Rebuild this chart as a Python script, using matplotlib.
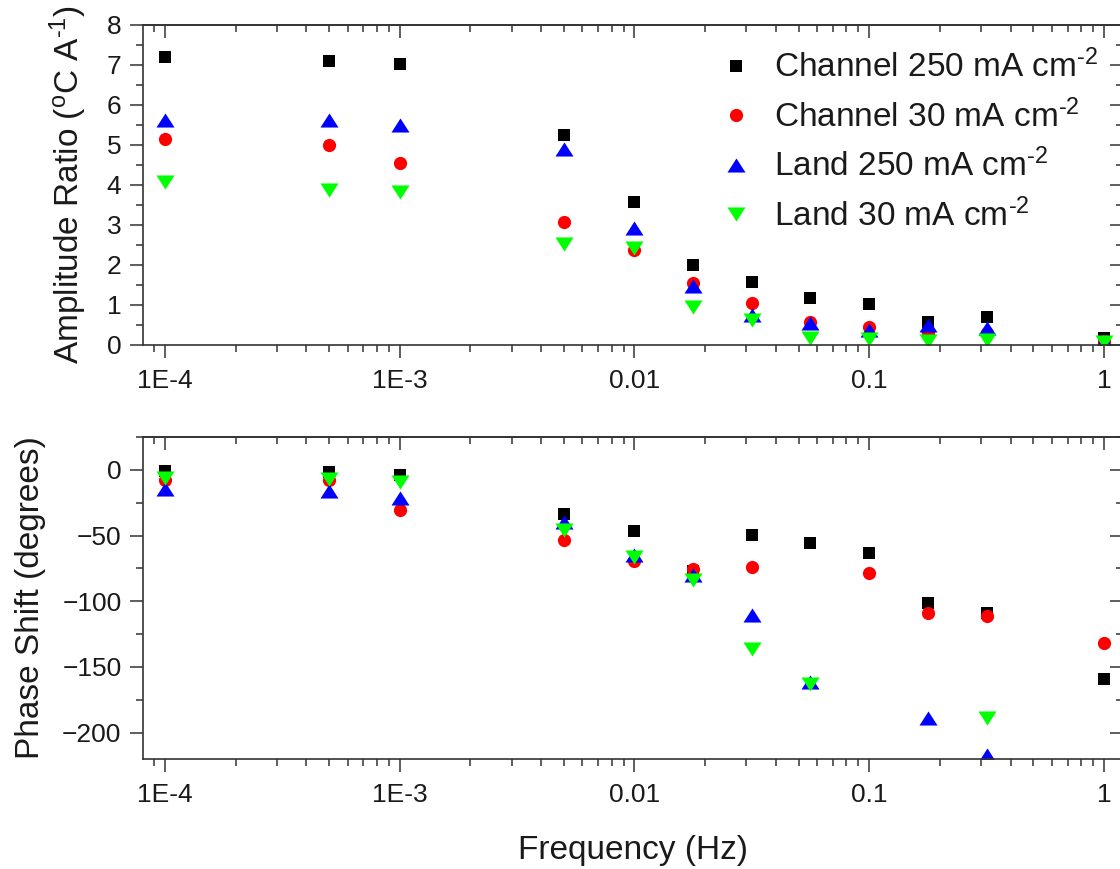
import numpy as np
import matplotlib
matplotlib.use("Agg")
import matplotlib.pyplot as plt
from matplotlib.ticker import FixedLocator, FixedFormatter, MultipleLocator, NullFormatter, LogLocator

plt.rcParams['font.family'] = ['Liberation Sans', 'DejaVu Sans']
plt.rcParams['mathtext.fontset'] = 'custom'
plt.rcParams['mathtext.rm'] = 'Liberation Sans'
plt.rcParams['mathtext.it'] = 'Liberation Sans:italic'
plt.rcParams['mathtext.bf'] = 'Liberation Sans:bold'

# ---- data ----
freq = [1e-4, 5e-4, 1e-3, 5e-3, 1e-2, 0.0178, 0.0316, 0.0562, 0.1, 0.178, 0.316, 1.0]

amp_ch250 = [7.2, 7.1, 7.03, 5.25, 3.57, 2.0, 1.58, 1.17, 1.02, 0.58, 0.70, 0.17]
amp_ch30 = [5.14, 5.0, 4.55, 3.08, 2.37, 1.55, 1.05, 0.58, 0.45, 0.30, 0.30, 0.10]
amp_la250 = [5.63, 5.63, 5.5, 4.9, 2.92, 1.47, 0.75, 0.55, 0.38, 0.5, 0.42, 0.10]
amp_la30 = [4.08, 3.88, 3.83, 2.52, 2.42, 0.95, 0.62, 0.17, 0.15, 0.10, 0.12, 0.08]

ph_ch250 = [-1, -2, -4, -33.6, -46.5, -77, -49.6, -55.7, -63.6, -101.5, -109, -158.8]
ph_ch30 = [-8, -8, -30.5, -53.4, -69, -75.8, -73.8, np.nan, -78.6, -109, -111.5, -131.8]
ph_la250 = [-14.7, -15.8, -21.4, -39.4, -65, -80, -110.7, -161.6, np.nan, -189, -217, np.nan]
ph_la30 = [-6, -7, -9, -46, -66, -84, -136, -162.6, np.nan, np.nan, -188.7, np.nan]

labels = ['Channel 250 mA cm$^{\\text{-2}}$', 'Channel 30 mA cm$^{\\text{-2}}$',
          'Land 250 mA cm$^{\\text{-2}}$', 'Land 30 mA cm$^{\\text{-2}}$']
colors = ['#000000', '#ff0000', '#0000ff', '#00ff00']

xtick_vals = [1e-4, 1e-3, 1e-2, 1e-1, 1]
xtick_labels = ['1E-4', '1E-3', '0.01', '0.1', '1']

tri_up = [(-1, -0.78), (1, -0.78), (0, 0.78), (-1, -0.78)]
tri_dn = [(-1, 0.78), (1, 0.78), (0, -0.78), (-1, 0.78)]
markers = ['s', 'o', tri_up, tri_dn]
msizes = [9, 9.5, 13, 13]

W, H = 1120, 869
fig = plt.figure(figsize=(W / 100, H / 100), dpi=100)

L = 143 / W
Wd = (1123 - 143) / W
ax1 = fig.add_axes([L, 1 - 345 / H, Wd, (345 - 25) / H])
ax2 = fig.add_axes([L, 1 - 759 / H, Wd, (759 - 437) / H])

text_c = '#1a1a1a'
spine_c = '#333333'

def style(ax, ymaj, ymin, ylim):
    ax.set_xscale('log')
    ax.set_xlim(8.06e-5, 1.205)
    ax.set_ylim(*ylim)
    ax.xaxis.set_major_locator(FixedLocator(xtick_vals))
    ax.xaxis.set_major_formatter(FixedFormatter(xtick_labels))
    ax.xaxis.set_minor_locator(LogLocator(base=10, subs=np.arange(2, 10), numticks=20))
    ax.xaxis.set_minor_formatter(NullFormatter())
    ax.yaxis.set_major_locator(MultipleLocator(ymaj))
    ax.yaxis.set_minor_locator(MultipleLocator(ymin))
    ax.tick_params(which='major', direction='out', length=9.5, width=1.1, color=spine_c,
                   labelsize=19, labelcolor=text_c, pad=8)
    ax.tick_params(which='minor', direction='out', length=5, width=1.1, color=spine_c)
    ax.tick_params(axis='y', which='major', pad=6)
    for s in ax.spines.values():
        s.set_color(spine_c)
        s.set_linewidth(1.2)
    # mirrored ticks pointing inward on top / right
    sx = ax.secondary_xaxis('top')
    sx.set_xticks(xtick_vals)
    sx.xaxis.set_minor_locator(LogLocator(base=10, subs=np.arange(2, 10), numticks=20))
    sx.xaxis.set_major_formatter(NullFormatter())
    sx.xaxis.set_minor_formatter(NullFormatter())
    sx.tick_params(which='major', direction='in', length=9.5, width=1.1, color=spine_c)
    sx.tick_params(which='minor', direction='in', length=5, width=1.1, color=spine_c)
    sx.spines['top'].set_color(spine_c)
    sx.spines['top'].set_linewidth(1.2)
    sy = ax.secondary_yaxis('right')
    sy.yaxis.set_major_locator(MultipleLocator(ymaj))
    sy.yaxis.set_minor_locator(MultipleLocator(ymin))
    sy.yaxis.set_major_formatter(NullFormatter())
    sy.tick_params(which='major', direction='in', length=9.5, width=1.1, color=spine_c)
    sy.tick_params(which='minor', direction='in', length=5, width=1.1, color=spine_c)

style(ax1, 1, 0.5, (0, 8))
style(ax2, 50, 25, (-220, 25))

amp_series = [amp_ch250, amp_ch30, amp_la250, amp_la30]
ph_series = [ph_ch250, ph_ch30, ph_la250, ph_la30]
for ys, lab, c, m, ms in zip(amp_series, labels, colors, markers, msizes):
    ax1.plot(freq, ys, linestyle='none', marker=m, markersize=ms, color=c,
             markeredgewidth=0, label=lab)
for ys, c, m, ms in zip(ph_series, colors, markers, msizes):
    ax2.plot(freq, ys, linestyle='none', marker=m, markersize=ms, color=c,
             markeredgewidth=0)

ax1.set_ylabel('Amplitude Ratio ($^{\\mathrm{o}}$C A$^{\\text{-1}}$)', fontsize=24, color=text_c)
ax1.yaxis.set_label_coords((89 - 143) / 980, 0.5)
ax2.set_ylabel('Phase Shift (degrees)', fontsize=24, color=text_c)
ax2.yaxis.set_label_coords((46 - 143) / 980, 0.5)
ax2.set_xlabel('Frequency (Hz)', fontsize=24, color=text_c, labelpad=20)

leg = ax1.legend(loc='upper left', bbox_to_anchor=((716 - 143) / 980, (345 - 50) / 320),
                 frameon=False, fontsize=24, handletextpad=0.55, labelspacing=0.45,
                 handlelength=1.2, borderaxespad=0, borderpad=0)
for t in leg.get_texts():
    t.set_color(text_c)

fig.savefig('out.png', dpi=100)
